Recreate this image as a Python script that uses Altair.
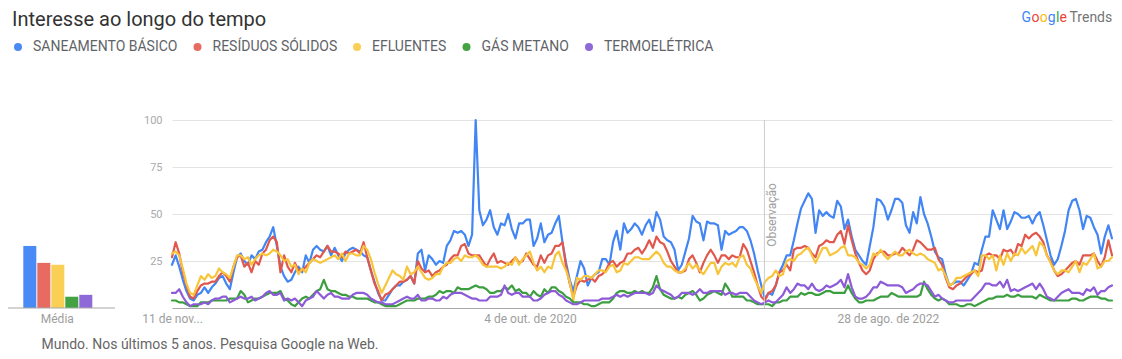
import json
import altair as alt
import pandas as pd

# ---------------- data ----------------
series = ["SANEAMENTO BÁSICO", "RESÍDUOS SÓLIDOS", "EFLUENTES", "GÁS METANO", "TERMOELÉTRICA"]
line_colors = ["#4285f4", "#e2574c", "#f8c53a", "#3b9e3f", "#8d5ad8"]
bar_colors = ["#4a8af5", "#e86b62", "#f9cf56", "#43a343", "#8d6ad8"]
medias = [33, 24, 23, 6, 7]

start_date = "2018-11-11"
obs_date = "2022-01-01"
tick_weeks = [0, 99, 198]
tick_labels = ["11 de nov...", "4 de out. de 2020", "28 de ago. de 2022"]
y_ticks = [25, 50, 75, 100]

saneamento = [
    23, 28, 22, 15, 9, 5, 4, 7, 8, 11, 8, 11, 13, 16, 17, 13, 10, 19, 27, 29, 25, 23, 28, 26, 30, 31, 35, 38, 43, 33, 22, 17, 14, 15, 19, 22, 19, 28,
    24, 31, 33, 31, 30, 33, 28, 32, 28, 25, 29, 31, 32, 31, 30, 28, 27, 20, 14, 8, 4, 4, 7, 10, 12, 12, 14, 15, 17, 13, 29, 31, 20, 28, 26, 23, 25, 24, 33, 36, 41, 40,
    41, 39, 33, 39, 100, 52, 44, 47, 52, 43, 39, 45, 44, 50, 42, 37, 45, 45, 47, 47, 33, 37, 45, 35, 39, 40, 45, 49, 35, 24, 15, 9, 17, 25, 21, 12, 16, 18, 19, 26, 26, 23, 35, 41, 31, 45, 40,
    42, 45, 43, 39, 44, 47, 41, 51, 47, 38, 36, 35, 31, 20, 23, 30, 37, 49, 46, 45, 36, 46, 45, 45, 44, 31, 41, 39, 40, 41, 43, 43, 41, 36, 29, 20, 12, 5, 8, 7, 12,
    19, 23, 28, 28, 36, 45, 53, 57, 61, 58, 40, 52, 49, 51, 49, 48, 57, 54, 42, 47, 38, 31, 28, 25, 23, 33, 43, 58, 57, 54, 47, 52, 58, 58, 56, 44, 40, 51, 45, 59, 50, 45, 38, 30, 27,
    26, 18, 12, 13, 14, 14, 12, 15, 18, 24, 23, 31, 38, 38, 52, 47, 42, 52, 42, 46, 51, 50, 48, 48, 49, 45, 49, 51, 44, 36, 28, 23, 26, 33, 41, 52, 57, 58, 52, 42, 49, 48, 43, 39, 29, 38, 44, 37,
]
residuos = [
    27, 35, 29, 19, 12, 6, 5, 9, 12, 13, 13, 14, 14, 17, 19, 17, 14, 22, 27, 28, 22, 24, 19, 25, 23, 29, 31, 36, 38, 35, 19, 28, 22, 19, 24, 20, 20, 22,
    24, 26, 28, 27, 30, 33, 30, 30, 29, 27, 30, 29, 30, 31, 29, 35, 27, 20, 13, 9, 4, 7, 8, 10, 12, 14, 14, 15, 17, 13, 25, 21, 19, 20, 17, 19, 20, 22, 23, 26, 28, 28,
    33, 34, 29, 28, 28, 28, 25, 22, 26, 29, 24, 25, 24, 23, 25, 27, 24, 25, 29, 26, 23, 22, 28, 24, 28, 29, 33, 33, 35, 22, 13, 6, 12, 15, 14, 15, 16, 14, 17, 18, 20, 24, 25, 22, 24, 25, 29,
    29, 31, 32, 29, 32, 36, 32, 38, 35, 34, 30, 25, 22, 19, 19, 20, 26, 28, 24, 19, 24, 28, 31, 28, 24, 28, 28, 26, 28, 27, 27, 34, 31, 25, 19, 12, 6, 4, 8, 9, 12,
    19, 20, 23, 20, 31, 32, 32, 33, 32, 29, 27, 33, 34, 36, 35, 35, 39, 41, 34, 44, 36, 29, 24, 20, 18, 20, 26, 29, 30, 30, 28, 28, 29, 29, 32, 30, 28, 31, 36, 35, 33, 31, 31, 32, 26,
    23, 16, 11, 10, 12, 13, 15, 17, 18, 20, 19, 20, 28, 29, 28, 28, 26, 31, 30, 31, 28, 34, 33, 39, 37, 39, 40, 38, 35, 28, 25, 20, 17, 18, 20, 22, 24, 25, 23, 28, 28, 28, 29, 25, 22, 27, 36, 28,
]
efluentes = [
    29, 30, 28, 21, 13, 8, 7, 12, 17, 15, 18, 16, 17, 21, 19, 18, 16, 22, 28, 28, 26, 27, 23, 26, 28, 29, 28, 29, 31, 30, 28, 25, 26, 22, 23, 18, 21, 19,
    24, 26, 25, 24, 25, 26, 27, 28, 26, 29, 25, 29, 29, 28, 28, 33, 31, 26, 19, 13, 8, 12, 16, 20, 18, 17, 15, 22, 18, 19, 22, 19, 16, 15, 16, 18, 18, 22, 24, 24, 26, 27,
    25, 28, 27, 27, 28, 26, 23, 22, 22, 22, 22, 21, 22, 24, 23, 27, 23, 26, 28, 30, 24, 20, 22, 19, 22, 21, 28, 30, 24, 20, 14, 4, 16, 15, 17, 17, 16, 18, 20, 20, 19, 22, 23, 19, 20, 24, 23,
    25, 27, 27, 26, 26, 26, 28, 30, 28, 24, 22, 22, 20, 19, 19, 21, 24, 21, 23, 20, 18, 21, 24, 24, 18, 22, 24, 23, 24, 22, 27, 28, 23, 21, 16, 12, 8, 14, 16, 17, 20,
    17, 18, 25, 26, 25, 28, 29, 31, 32, 28, 24, 28, 32, 32, 28, 29, 30, 32, 33, 28, 28, 27, 24, 23, 21, 23, 29, 28, 31, 28, 26, 28, 30, 28, 28, 30, 31, 29, 28, 29, 28, 26, 25, 24, 20,
    21, 17, 12, 13, 16, 16, 17, 18, 19, 20, 17, 28, 28, 26, 28, 20, 28, 23, 29, 25, 29, 28, 32, 29, 31, 33, 28, 35, 33, 28, 24, 20, 18, 20, 20, 19, 22, 25, 19, 24, 23, 26, 29, 21, 22, 25, 25, 27,
]
gas_metano = [
    4, 4, 3, 3, 2, 1, 1, 1, 3, 3, 3, 4, 4, 4, 4, 4, 5, 5, 5, 9, 7, 3, 4, 5, 5, 6, 7, 8, 8, 8, 9, 5, 4, 2, 1, 3, 5, 6,
    5, 7, 9, 10, 15, 10, 9, 9, 8, 7, 7, 6, 6, 5, 5, 5, 5, 4, 3, 3, 2, 1, 1, 1, 1, 2, 3, 4, 4, 4, 5, 5, 5, 6, 6, 7, 9, 8, 9, 9, 8, 11,
    10, 10, 10, 11, 12, 11, 11, 10, 8, 8, 9, 9, 11, 10, 12, 9, 10, 8, 8, 6, 9, 7, 6, 10, 8, 11, 11, 9, 8, 6, 5, 3, 3, 3, 2, 2, 1, 1, 2, 3, 3, 3, 5, 8, 9, 9, 8,
    8, 9, 8, 9, 8, 8, 11, 17, 10, 7, 6, 5, 5, 6, 5, 7, 8, 9, 7, 4, 5, 7, 8, 9, 8, 7, 13, 10, 6, 6, 6, 6, 4, 4, 3, 2, 2, 2, 2, 1, 3,
    3, 4, 4, 6, 6, 6, 8, 7, 8, 8, 7, 7, 8, 9, 9, 8, 8, 8, 8, 12, 8, 5, 3, 3, 4, 4, 4, 5, 6, 6, 6, 8, 7, 6, 6, 6, 6, 6, 6, 7, 14, 10, 7, 5, 4,
    5, 4, 2, 2, 2, 1, 1, 2, 2, 1, 2, 3, 4, 5, 5, 6, 6, 6, 7, 6, 6, 7, 6, 6, 6, 6, 5, 7, 6, 5, 4, 4, 4, 4, 4, 4, 5, 5, 4, 4, 5, 6, 6, 6, 5, 5, 4, 4,
]
termoeletrica = [
    8, 8, 10, 6, 3, 1, 2, 2, 2, 3, 2, 4, 5, 5, 6, 6, 3, 4, 5, 6, 5, 5, 6, 4, 5, 6, 8, 9, 7, 7, 8, 4, 5, 4, 5, 3, 1, 4,
    5, 6, 9, 7, 5, 7, 8, 6, 6, 5, 5, 5, 7, 8, 8, 8, 7, 5, 4, 3, 3, 2, 2, 2, 3, 4, 5, 6, 5, 5, 7, 4, 4, 5, 5, 4, 4, 6, 5, 7, 8, 8,
    8, 7, 6, 5, 5, 4, 4, 4, 6, 6, 6, 7, 12, 8, 7, 8, 8, 6, 6, 6, 4, 4, 5, 7, 8, 9, 9, 7, 6, 4, 3, 2, 2, 3, 4, 4, 4, 4, 4, 5, 5, 5, 6, 7, 6, 7, 6,
    7, 8, 8, 8, 8, 7, 8, 12, 10, 9, 8, 7, 5, 6, 8, 8, 8, 7, 8, 10, 8, 8, 9, 9, 9, 9, 7, 8, 8, 7, 8, 8, 8, 6, 4, 3, 2, 3, 4, 3, 3,
    5, 7, 11, 8, 10, 13, 12, 12, 10, 13, 10, 9, 10, 12, 11, 12, 13, 15, 11, 18, 11, 6, 5, 5, 6, 8, 11, 11, 14, 13, 12, 12, 12, 12, 11, 8, 9, 10, 12, 13, 13, 12, 9, 6, 7,
    5, 4, 3, 3, 4, 4, 4, 4, 4, 6, 8, 10, 13, 13, 12, 12, 14, 11, 15, 9, 10, 9, 10, 11, 12, 13, 10, 13, 10, 6, 5, 4, 6, 8, 9, 10, 8, 8, 8, 7, 10, 9, 11, 7, 9, 9, 11, 12,
]

all_values = [saneamento, residuos, efluentes, gas_metano, termoeletrica]

# ---------------- tables ----------------
rows = []
for name, vals in zip(series, all_values):
    for i, v in enumerate(vals):
        rows.append({"semana": i, "serie": name, "valor": v})
df_lines = pd.DataFrame(rows)
n_weeks = len(saneamento)

df_bars = pd.DataFrame({"serie": series, "media": medias})

obs_week = (pd.Timestamp(obs_date) - pd.Timestamp(start_date)).days / 7.0
df_obs = pd.DataFrame({"semana": [obs_week], "rotulo": ["Observação"]})

label_expr = "{}[indexof({}, datum.value)]".format(
    json.dumps(tick_labels, ensure_ascii=False), json.dumps(tick_weeks)
)

FONT = "Roboto"
GRAY_LABEL = "#9e9e9e"

x_domain = [0, n_weeks - 1]
y_scale = alt.Scale(domain=[0, 100], nice=False, zero=True)
y_axis = alt.Axis(
    values=y_ticks, grid=True, gridColor="#e3e3e3", ticks=False, domain=False,
    labelColor="#aaaaaa", labelFont=FONT, labelFontSize=11, labelPadding=10, title=None,
)

lines = alt.Chart(df_lines).mark_line(strokeWidth=2.2, strokeJoin="round", strokeCap="round").encode(
    x=alt.X(
        "semana:Q",
        scale=alt.Scale(domain=x_domain, nice=False, zero=False),
        axis=alt.Axis(
            values=tick_weeks, labelExpr=label_expr, grid=False, ticks=False,
            domain=True, domainColor="#a8a8a8", domainWidth=1,
            labelColor=GRAY_LABEL, labelFont=FONT, labelFontSize=12,
            labelPadding=5, labelFlush=False, labelOverlap=False, title=None,
        ),
    ),
    y=alt.Y("valor:Q", scale=y_scale, axis=y_axis),
    color=alt.Color("serie:N", scale=alt.Scale(domain=series, range=line_colors), legend=None),
)

obs_rule = alt.Chart(df_obs).mark_rule(color="#cccccc", strokeWidth=1).encode(
    x=alt.X("semana:Q", scale=alt.Scale(domain=x_domain, nice=False, zero=False), axis=None),
    y=alt.value(0), y2=alt.value(188),
)
obs_text = alt.Chart(df_obs).mark_text(
    angle=270, align="center", baseline="middle", dy=8, font=FONT, fontSize=12, color=GRAY_LABEL
).encode(
    x=alt.X("semana:Q", scale=alt.Scale(domain=x_domain, nice=False, zero=False), axis=None),
    y=alt.value(95), text="rotulo:N",
)

bars = alt.Chart(df_bars).mark_bar().encode(
    x=alt.X(
        "serie:N", sort=series,
        scale=alt.Scale(domain=series, range=[-148.7, -79.7], paddingInner=0.07, paddingOuter=0),
        axis=None,
    ),
    y=alt.Y("media:Q", scale=y_scale, axis=y_axis),
    color=alt.Color(
        "serie:N",
        scale=alt.Scale(domain=series, range=bar_colors),
        legend=alt.Legend(
            orient="none", legendX=-161, legendY=-80, direction="horizontal", title=None,
            symbolType="circle", symbolSize=64, symbolStrokeWidth=0,
            labelFont=FONT, labelFontSize=14, labelColor="#5f6368",
            columnPadding=12.5, labelOffset=8, padding=0,
        ),
    ),
)

bar_axis = alt.Chart(pd.DataFrame({"v": [0]})).mark_rule(color="#a8a8a8", strokeWidth=1).encode(
    x=alt.value(-170.3), x2=alt.value(-57), y=alt.value(188)
)


def label(txt, x, y, size, color, align="left", baseline="middle"):
    return alt.Chart(pd.DataFrame({"t": [txt]})).mark_text(
        align=align, baseline=baseline, font=FONT, fontSize=size, color=color
    ).encode(x=alt.value(x), y=alt.value(y), text="t:N")


texts = [
    label("Média", -114.7, 198.5, 12, GRAY_LABEL, align="center"),
    label("Interesse ao longo do tempo", -160, -94.5, 20, "#333333", baseline="alphabetic"),
    label("Mundo. Nos últimos 5 anos. Pesquisa Google na Web.", -130.5, 224.5, 14, "#666666"),
]

logo_letters = ["G", "o", "o", "g", "l", "e"]
logo_colors = ["#4285f4", "#ea4335", "#fbbc05", "#4285f4", "#34a853", "#ea4335"]
logo_x = [1021.5, 1031.6, 1039.7, 1047.8, 1056.0, 1059.6]
for ch, col, px in zip(logo_letters, logo_colors, logo_x):
    texts.append(label(ch, px - 172, -98.5, 14, col, baseline="alphabetic"))
texts.append(label("Trends", 1069.5 - 172, -98.5, 14, "#757575", baseline="alphabetic"))

chart = alt.layer(lines, obs_rule, obs_text, bars, bar_axis, *texts).resolve_scale(
    x="independent", color="independent"
).properties(
    width=940, height=188,
    padding={"left": 164, "top": 112, "right": 2, "bottom": 43},
    autosize=alt.AutoSizeParams(type="none"),
).configure(font=FONT).configure_view(stroke=None)

chart.save("out.html", embed_options={"renderer": "svg", "actions": False})
